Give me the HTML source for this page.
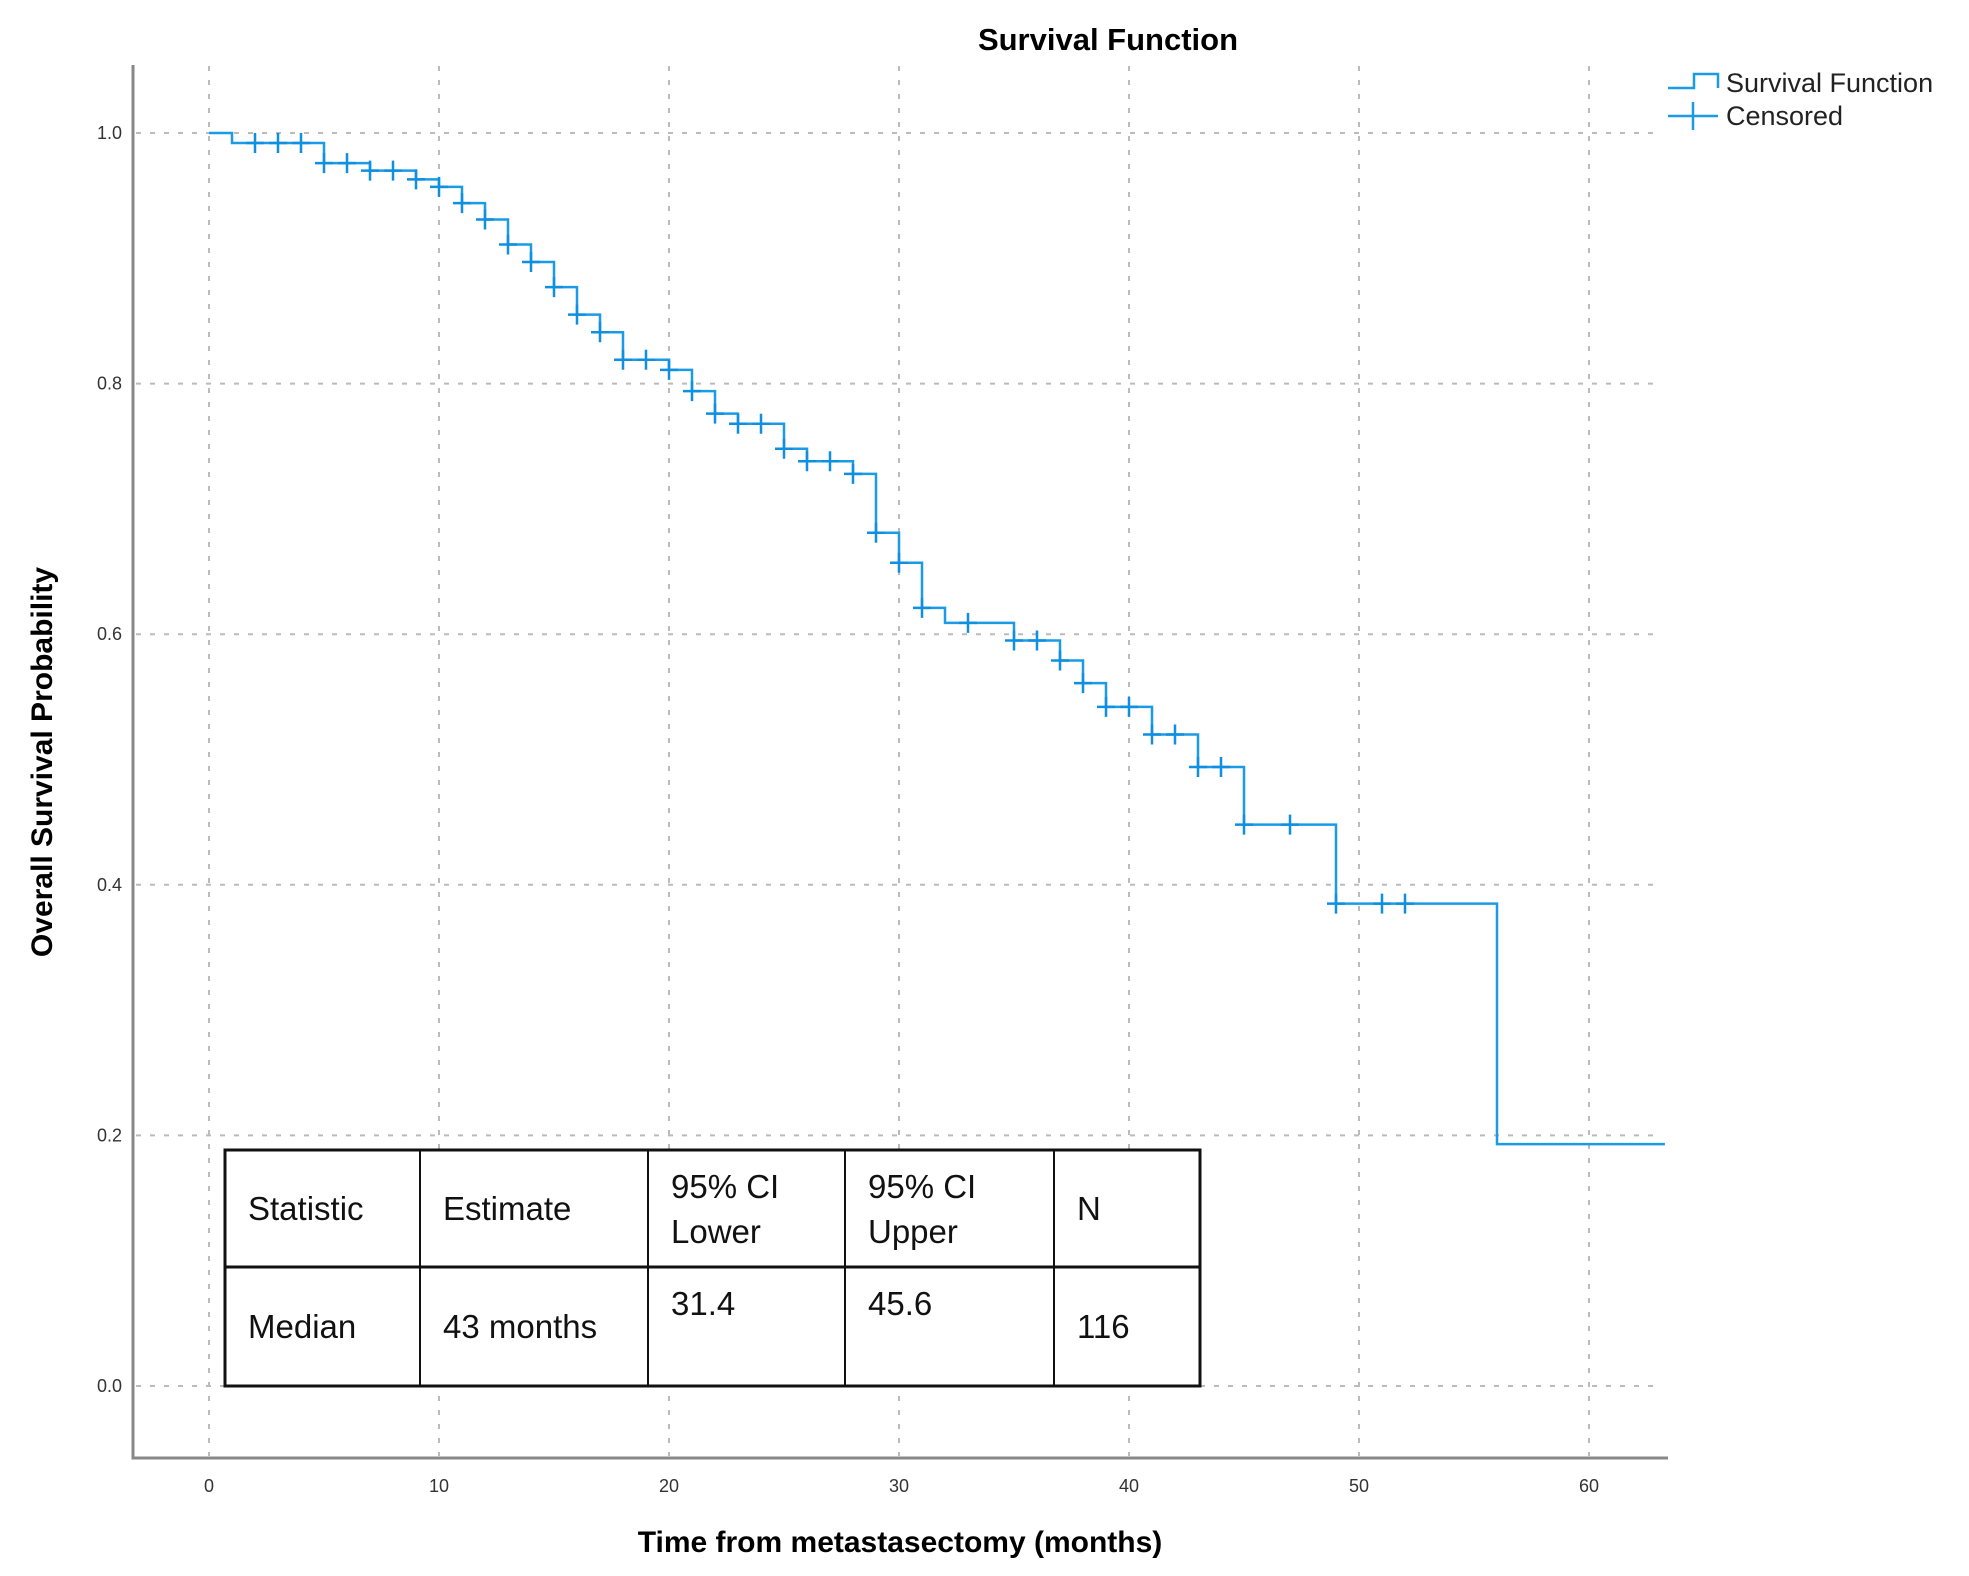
<!DOCTYPE html>
<html><head><meta charset="utf-8"><style>
body{margin:0;background:#fff;}
svg{display:block;font-family:"Liberation Sans","DejaVu Sans",sans-serif;}
</style></head><body>
<svg id="chart" width="1969" height="1576" viewBox="0 0 1969 1576">
<text x="1108" y="50" text-anchor="middle" font-size="31" font-weight="bold">Survival Function</text>
<g id="grid"></g>
<g id="axes"></g>
<g id="series"></g>
<text x="900" y="1552" text-anchor="middle" font-size="30" font-weight="bold">Time from metastasectomy (months)</text>
<text transform="translate(52,762) rotate(-90)" text-anchor="middle" font-size="30" font-weight="bold">Overall Survival Probability</text>
<g>
<g>
<path d="M1668 88 H1694 V74 H1718 V88" fill="none" stroke="#1a9be6" stroke-width="2.5"/>
<text x="1726" y="92" font-size="27" fill="#222">Survival Function</text></g>
<g>
<path d="M1668 116 H1718 M1693 102 V130" fill="none" stroke="#1a9be6" stroke-width="2.5"/>
<text x="1726" y="125" font-size="27" fill="#222">Censored</text></g>
</g>
<g font-size="33" fill="#111">
<rect x="225" y="1150" width="975" height="236" fill="#fff" stroke="#111" stroke-width="3"/>
<line x1="225" y1="1267" x2="1200" y2="1267" stroke="#111" stroke-width="3"/>
<line x1="420" y1="1150" x2="420" y2="1386" stroke="#111" stroke-width="2"/>
<line x1="648" y1="1150" x2="648" y2="1386" stroke="#111" stroke-width="2"/>
<line x1="845" y1="1150" x2="845" y2="1386" stroke="#111" stroke-width="2"/>
<line x1="1054" y1="1150" x2="1054" y2="1386" stroke="#111" stroke-width="2"/>
<text x="248" y="1220">Statistic</text>
<text x="443" y="1220">Estimate</text>
<text x="671" y="1198">95% CI</text>
<text x="671" y="1243">Lower</text>
<text x="868" y="1198">95% CI</text>
<text x="868" y="1243">Upper</text>
<text x="1077" y="1220">N</text>
<text x="248" y="1338">Median</text>
<text x="443" y="1338">43 months</text>
<text x="671" y="1315">31.4</text>
<text x="868" y="1315">45.6</text>
<text x="1077" y="1338">116</text>
</g>
</svg>
<script>
const stepTimes=[0,1,5,7,9,10,11,12,13,14,15,16,17,18,20,21,22,23,25,26,28,29,30,31,32,35,37,38,39,41,43,45,49,56];
const stepValues=[1.0,0.992,0.976,0.970,0.963,0.957,0.944,0.931,0.911,0.897,0.877,0.855,0.841,0.819,0.811,0.794,0.776,0.768,0.748,0.738,0.728,0.681,0.657,0.621,0.609,0.595,0.579,0.561,0.542,0.520,0.494,0.448,0.385,0.193];
const endTime=63.3;
const censorTimes=[2,3,4,5,6,7,8,9,10,11,12,13,14,15,16,17,18,19,20,21,22,23,24,25,26,27,28,29,30,31,33,35,36,37,38,39,40,41,42,43,44,45,47,49,51,52];
const xTicks=[0,10,20,30,40,50,60];
const yTicks=[0.0,0.2,0.4,0.6,0.8,1.0];
const yTickLabels=["0.0","0.2","0.4","0.6","0.8","1.0"];

const NS="http://www.w3.org/2000/svg";
const X=t=>209+t*23.0;
const Y=v=>1386-v*1253;
function mk(tag,attrs,parent){const e=document.createElementNS(NS,tag);for(const k in attrs)e.setAttribute(k,attrs[k]);parent.appendChild(e);return e;}
const grid=document.getElementById('grid'),axes=document.getElementById('axes'),series=document.getElementById('series');
xTicks.forEach(t=>{
  const l=mk('line',{x1:X(t),x2:X(t),y1:66,y2:1456,stroke:'#bbb','stroke-width':2,'stroke-dasharray':'5 9'},grid);
  
  
  const tx=mk('text',{x:X(t),y:1492,'text-anchor':'middle','font-size':18,fill:'#333'},axes);
  tx.textContent=t;
  
  
});
yTicks.forEach((v,i)=>{
  const l=mk('line',{x1:136,x2:1660,y1:Y(v),y2:Y(v),stroke:'#bbb','stroke-width':2,'stroke-dasharray':'5 9'},grid);
  
  
  const tx=mk('text',{x:122,y:Y(v)+6,'text-anchor':'end','font-size':18,fill:'#333'},axes);
  tx.textContent=yTickLabels[i];
  
  
});
const ax=mk('path',{d:'M133 65 V1458 H1668',fill:'none',stroke:'#888','stroke-width':3},axes);


let d='M'+X(stepTimes[0])+' '+Y(stepValues[0]);
for(let i=1;i<stepTimes.length;i++){d+=' H'+X(stepTimes[i])+' V'+Y(stepValues[i]);}
d+=' H'+X(endTime);
const p=mk('path',{d:d,fill:'none',stroke:'#1a9be6','stroke-width':2.5},series);


function valAt(t){let v=stepValues[0];for(let i=0;i<stepTimes.length;i++){if(stepTimes[i]<=t)v=stepValues[i];}return v;}
censorTimes.forEach(t=>{
  const x=X(t),y=Y(valAt(t));
  const c=mk('path',{d:`M${x-9} ${y} H${x+9} M${x} ${y-10} V${y+10}`,stroke:'#0e8fe0','stroke-width':2.5,fill:'none'},series);
  
  
});
</script>
</body></html>
